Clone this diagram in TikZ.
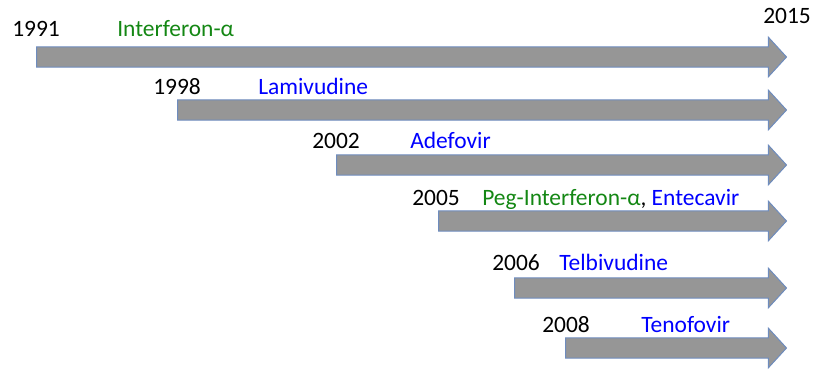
\documentclass[tikz,border=0pt]{standalone}
\usepackage{fontspec}
\setmainfont{Carlito}
\usetikzlibrary{positioning, shapes.arrows}

\definecolor{drugblue}{RGB}{0,0,255}
\definecolor{druggreen}{RGB}{20,135,20}
\definecolor{barfill}{RGB}{150,150,150}
\definecolor{barline}{RGB}{110,140,190}

\begin{document}
\begin{tikzpicture}[
  x=0.75pt, y=-0.75pt,
  bar/.style={single arrow, draw=barline, fill=barfill, line width=0.75pt,
    inner xsep=0pt, inner ysep=7.3pt, single arrow head extend=7.2pt,
    single arrow tip angle=95, anchor=tail},
  year/.style={anchor=base west, inner sep=0pt, font=\fontsize{17.6}{20}\selectfont},
  drug/.style={year, text=drugblue},
  ifn/.style={year, text=druggreen}
]
  \useasboundingbox (0,0) rectangle (816,371);

  \node[bar, minimum height={750*0.75pt}] (b1991) at (36,57) {};
  \node[bar, minimum height={609*0.75pt}] (b1998) at (177,110) {};
  \node[bar, minimum height={450*0.75pt}] (b2002) at (336,165) {};
  \node[bar, minimum height={348*0.75pt}] (b2005) at (438,221) {};
  \node[bar, minimum height={272*0.75pt}] (b2006) at (514,288) {};
  \node[bar, minimum height={221*0.75pt}] (b2008) at (565,348) {};

  \node[year] (y1991) at (12,36) {1991};
  \node[ifn]  (ifna)  at (117,36) {Interferon-α};
  \node[year] (y2015) at (763,23) {2015};

  \node[year] (y1998) at (153,94) {1998};
  \node[drug] (lam)   at (258,94) {Lamivudine};

  \node[year] (y2002) at (312,148) {2002};
  \node[drug] (ade)   at (410,148) {Adefovir};

  \node[year] (y2005) at (412,205) {2005};
  \node[year] (peg)   at (482,205) {\textcolor{druggreen}{Peg-Interferon-α}, \textcolor{drugblue}{Entecavir}};

  \node[year] (y2006) at (492,270) {2006};
  \node[drug] (tel)   at (559,270) {Telbivudine};

  \node[year] (y2008) at (542,332) {2008};
  \node[drug] (teno)  at (641,332) {Tenofovir};
\end{tikzpicture}
\end{document}
